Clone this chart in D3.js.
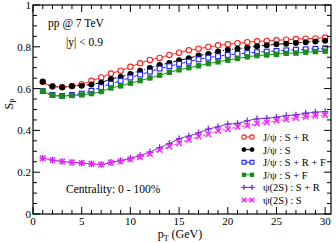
<!DOCTYPE html>
<html>
<head>
<meta charset="utf-8">
<script src="https://cdn.jsdelivr.net/npm/d3@7"></script>
<style>
  body { margin: 0; background: white; }
  text { font-family: "Liberation Serif", "DejaVu Serif", serif; }
</style>
</head>
<body>
<div id="chart"></div>
<script>
const PT = d3.range(1, 31);

const JPSI_SR  = [0.633,0.610,0.607,0.612,0.621,0.637,0.653,0.672,0.686,0.704,0.721,0.737,0.747,0.761,0.772,0.783,0.791,0.799,0.807,0.812,0.817,0.822,0.826,0.828,0.831,0.834,0.837,0.839,0.840,0.844];
const JPSI_S   = [0.633,0.611,0.607,0.611,0.614,0.620,0.629,0.646,0.656,0.670,0.686,0.699,0.713,0.723,0.736,0.745,0.758,0.766,0.777,0.786,0.791,0.796,0.803,0.807,0.812,0.815,0.818,0.822,0.825,0.829];
const JPSI_SRF = [0.588,0.570,0.565,0.570,0.576,0.589,0.607,0.623,0.637,0.653,0.667,0.681,0.696,0.707,0.718,0.729,0.740,0.748,0.755,0.761,0.766,0.770,0.774,0.777,0.780,0.783,0.786,0.788,0.790,0.793];
const JPSI_SF  = [0.588,0.568,0.564,0.567,0.570,0.576,0.586,0.603,0.613,0.626,0.638,0.651,0.664,0.678,0.690,0.700,0.709,0.720,0.728,0.736,0.744,0.752,0.758,0.761,0.764,0.769,0.770,0.774,0.777,0.779];
const PSI2S_SR = [0.267,0.258,0.251,0.247,0.244,0.240,0.237,0.247,0.255,0.266,0.280,0.296,0.318,0.337,0.360,0.373,0.388,0.406,0.417,0.430,0.433,0.446,0.455,0.458,0.463,0.471,0.474,0.482,0.487,0.490];
const PSI2S_S  = [0.267,0.258,0.251,0.247,0.244,0.240,0.237,0.246,0.252,0.262,0.272,0.287,0.306,0.323,0.339,0.355,0.371,0.382,0.398,0.406,0.416,0.423,0.433,0.438,0.446,0.452,0.459,0.465,0.470,0.474];

const X_TICKS = [0, 5, 10, 15, 20, 25, 30];
const Y_TICKS = [0, 0.2, 0.4, 0.6, 0.8, 1];

const series = [
  { name: "J/\u03c8 : S + R",     values: JPSI_SR,  color: "#ff2020", marker: "circleOpen",  dash: null },
  { name: "J/\u03c8 : S",         values: JPSI_S,   color: "#000000", marker: "circleFill",  dash: "4,2,1,2" },
  { name: "J/\u03c8 : S + R + F", values: JPSI_SRF, color: "#1a1aff", marker: "squareOpen",  dash: "3,2" },
  { name: "J/\u03c8 : S + F",     values: JPSI_SF,  color: "#1a8c1a", marker: "squareFill",  dash: null },
  { name: "\u03c8(2S) : S + R",   values: PSI2S_SR, color: "#7b2fd6", marker: "plus",        dash: null },
  { name: "\u03c8(2S) : S",       values: PSI2S_S,  color: "#ff20ff", marker: "cross",       dash: "3,2" }
];

var width = 336, height = 243;
var margin = {left: 33, right: 5, top: 5, bottom: 29};

var svg = d3.select("#chart")
  .append("svg")
  .attr("width", width)
  .attr("height", height);

var x = d3.scaleLinear().domain([0, 30.6]).range([margin.left, width - margin.right]);
var y = d3.scaleLinear().domain([0, 1]).range([height - margin.bottom, margin.top]);

function drawMarker(g, type, cx, cy, color, k)
{
  k = k || 1;
  if (type == "circleOpen")
    g.append("circle").attr("cx", cx).attr("cy", cy).attr("r", 2.7 * k)
      .attr("fill", "white").attr("stroke", color).attr("stroke-width", 1.1);
  else if (type == "circleFill")
    g.append("circle").attr("cx", cx).attr("cy", cy).attr("r", 3 * k).attr("fill", color);
  else if (type == "squareOpen")
    g.append("rect").attr("x", cx - 2.4 * k).attr("y", cy - 2.4 * k).attr("width", 4.8 * k).attr("height", 4.8 * k)
      .attr("fill", "white").attr("stroke", color).attr("stroke-width", 1.1);
  else if (type == "squareFill")
    g.append("rect").attr("x", cx - 2.7 * k).attr("y", cy - 2.7 * k).attr("width", 5.4 * k).attr("height", 5.4 * k).attr("fill", color);
  else if (type == "plus")
    g.append("path").attr("d", `M${cx-3.3*k},${cy}H${cx+3.3*k}M${cx},${cy-3.3*k}V${cy+3.3*k}`)
      .attr("stroke", color).attr("stroke-width", 1.3);
  else if (type == "cross")
    g.append("path").attr("d", `M${cx-2.8*k},${cy-2.8*k}L${cx+2.8*k},${cy+2.8*k}M${cx-2.8*k},${cy+2.8*k}L${cx+2.8*k},${cy-2.8*k}`)
      .attr("stroke", color).attr("stroke-width", 1.4);
}

// curves
var line = d3.line()
  .x(function(d, i) { return x(PT[i]); })
  .y(function(d) { return y(d); })
  .curve(d3.curveMonotoneX);

series.forEach(function(s) {
  svg.append("path")
    .attr("d", line(s.values))
    .attr("fill", "none")
    .attr("stroke", s.color)
    .attr("stroke-width", 1)
    .attr("stroke-dasharray", s.dash);
  var g = svg.append("g");
  s.values.forEach(function(v, i) { drawMarker(g, s.marker, x(PT[i]), y(v), s.color); });
});

// frame + ticks (all four sides, inward)
var x0 = x.range()[0], x1 = x.range()[1], y0 = y.range()[0], y1 = y.range()[1];
svg.append("rect")
  .attr("x", x0).attr("y", y1).attr("width", x1 - x0).attr("height", y0 - y1)
  .attr("fill", "none").attr("stroke", "black").attr("stroke-width", 1.2);

var ticks = svg.append("g").attr("stroke", "black").attr("stroke-width", 1);
d3.range(0, 31, 1).forEach(function(t) {
  var len = (t % 5 == 0) ? 7 : 4;
  ticks.append("line").attr("x1", x(t)).attr("x2", x(t)).attr("y1", y0).attr("y2", y0 - len);
  ticks.append("line").attr("x1", x(t)).attr("x2", x(t)).attr("y1", y1).attr("y2", y1 + len);
});
d3.range(0, 21, 1).forEach(function(k) {
  var t = k * 0.05;
  var len = (k % 4 == 0) ? 7 : 4;
  ticks.append("line").attr("x1", x0).attr("x2", x0 + len).attr("y1", y(t)).attr("y2", y(t));
  ticks.append("line").attr("x1", x1).attr("x2", x1 - len).attr("y1", y(t)).attr("y2", y(t));
});

// tick labels
svg.append("g").selectAll("text")
  .data(X_TICKS)
  .enter()
  .append("text")
  .attr("x", function(d) { return x(d); })
  .attr("y", y0 + 11)
  .style("text-anchor", "middle")
  .style("font-size", "11px")
  .text(function(d) { return d; });

svg.append("g").selectAll("text")
  .data(Y_TICKS)
  .enter()
  .append("text")
  .attr("x", x0 - 2)
  .attr("y", function(d) { return y(d) + 4; })
  .style("text-anchor", "end")
  .style("font-size", "11px")
  .text(function(d) { return d; });

// axis titles
var xt = svg.append("text")
  .attr("x", 180).attr("y", 238)
  .style("text-anchor", "middle")
  .style("font-size", "12px");
xt.append("tspan").text("p");
xt.append("tspan").attr("dy", 3).style("font-size", "8px").text("T");
xt.append("tspan").attr("dy", -3).text(" (GeV)");

var yt = svg.append("text")
  .attr("transform", "translate(13," + 104 + ") rotate(-90)")
  .style("text-anchor", "middle")
  .style("font-size", "12px");
yt.append("tspan").text("S");
yt.append("tspan").attr("dy", 3).style("font-size", "8px").text("P");

// annotations
svg.append("text").attr("x", 48).attr("y", 27).style("font-size", "11.5px").text("pp @ 7 TeV");
svg.append("text").attr("x", 66).attr("y", 46).style("font-size", "11.5px").text("|y| < 0.9");
svg.append("text").attr("x", 66).attr("y", 193).style("font-size", "11.5px").text("Centrality: 0 - 100%");

// legend
var legend = svg.append("g");
series.forEach(function(s, i) {
  var ly = 137 + i * 12.6;
  legend.append("line")
    .attr("x1", 244).attr("x2", 252).attr("y1", ly).attr("y2", ly)
    .attr("stroke", s.color).attr("stroke-width", 1);
  drawMarker(legend, s.marker, 244, ly, s.color, 0.8);
  drawMarker(legend, s.marker, 252, ly, s.color, 0.8);
  legend.append("text")
    .attr("x", 263).attr("y", ly + 4)
    .style("font-size", "10.5px")
    .text(s.name);
});
</script>
</body>
</html>
